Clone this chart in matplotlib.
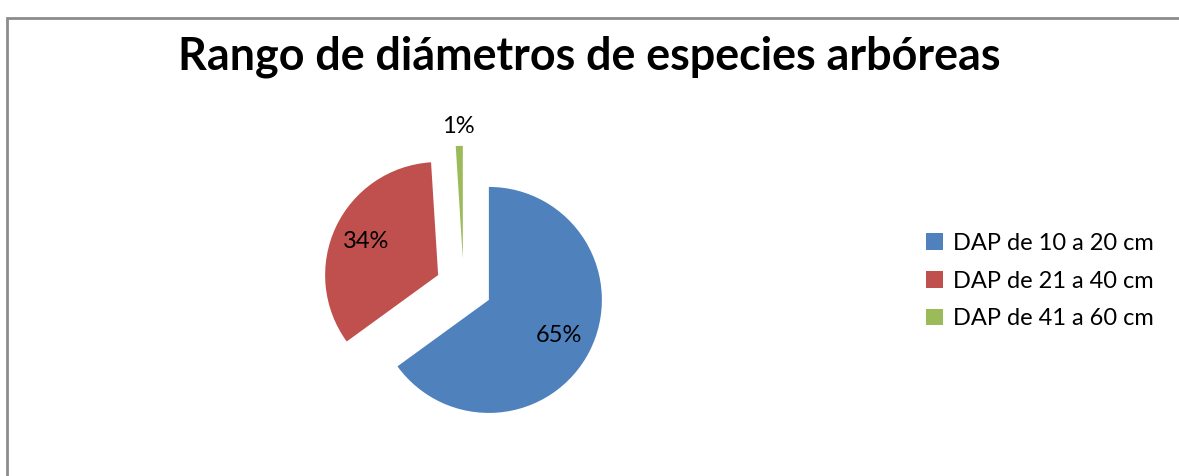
import numpy as np
import matplotlib
matplotlib.use('Agg')
import matplotlib.pyplot as plt
from matplotlib.patches import Rectangle

plt.rcParams['font.family'] = ['Lato', 'DejaVu Sans']

# Datos
categorias = ['DAP de 10 a 20 cm', 'DAP de 21 a 40 cm', 'DAP de 41 a 60 cm']
porcentajes = [65, 34, 1]
colores = ['#4F81BD', '#C0504D', '#9BBB59']

fig = plt.figure(figsize=(11.79, 4.76), dpi=100)

# Marco gris del gráfico (solo arriba e izquierda visibles)
fig.patches.append(Rectangle((7.5 / 1179, -0.1), 1.2, (466 - 7.5) / 476 + 0.1,
                             transform=fig.transFigure, fill=False,
                             edgecolor='#8C8C8C', linewidth=2))

fig.text(0.5, 1 - 57 / 476, 'Rango de diámetros de especies arbóreas',
         ha='center', va='center', fontsize=32.3, fontweight='bold')

# Eje del pastel: centro ~(464, 287) px, radio ~113 px
r_px = 113
cx, cy = 463.7, 287.1
ax = fig.add_axes([(cx - 1.5 * r_px) / 1179, 1 - (cy + 1.5 * r_px) / 476,
                   3 * r_px / 1179, 3 * r_px / 476])

wedges, textos, autotextos = ax.pie(
    porcentajes, colors=colores, startangle=90, counterclock=False,
    explode=[0.25, 0.25, 0.25], radius=1,
    autopct='%1.0f%%', pctdistance=0.7,
    textprops={'fontsize': 17, 'color': 'black'})
ax.set_xlim(-1.5, 1.5)
ax.set_ylim(-1.5, 1.5)
ax.axis('off')

# Etiqueta del 1% fuera del sector
w = wedges[2]
theta = np.deg2rad((w.theta1 + w.theta2) / 2)
x0, y0 = w.center
autotextos[2].set_position((x0 + 1.17 * np.cos(theta), y0 + 1.17 * np.sin(theta)))

# Leyenda
fig.legend(wedges, categorias, loc='center left',
           bbox_to_anchor=(905 / 1179, 1 - 281 / 476),
           frameon=False, fontsize=17, handlelength=0.7, handleheight=0.7,
           handletextpad=0.45, labelspacing=0.7)

fig.savefig('out.png', dpi=100)
